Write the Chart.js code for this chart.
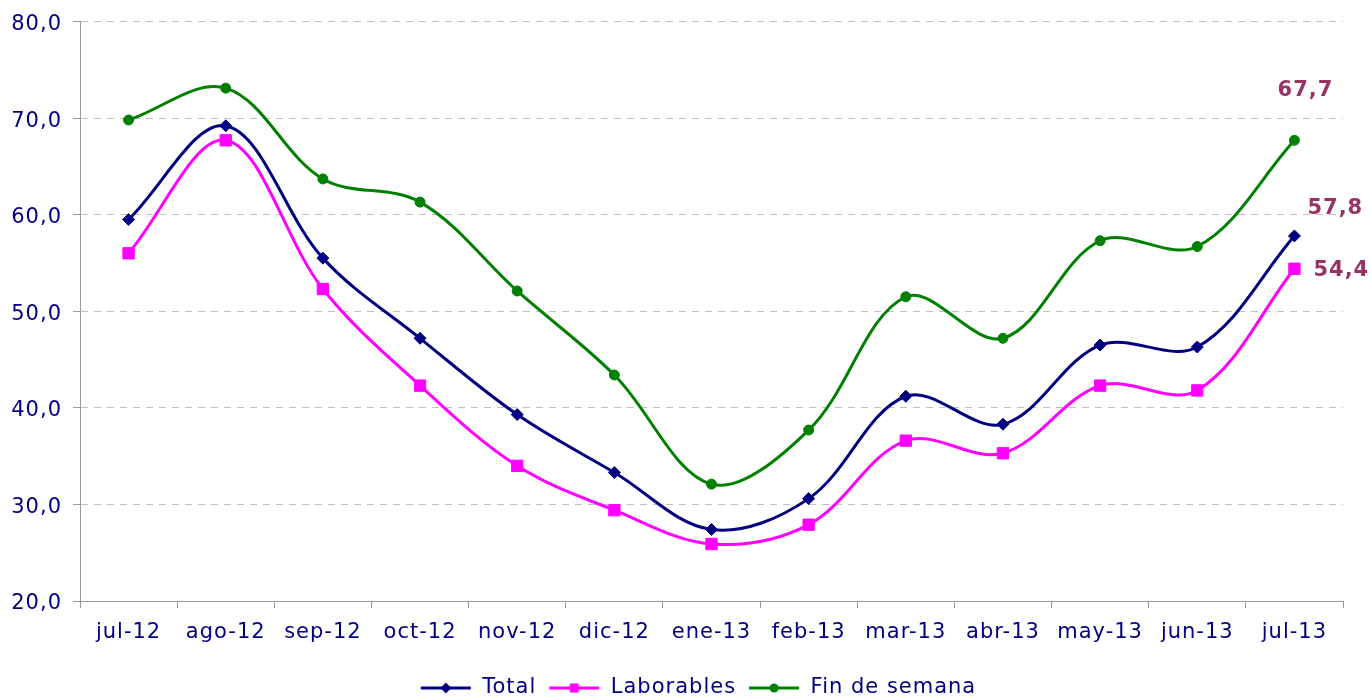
<!DOCTYPE html>
<html><head><meta charset="utf-8">
<script src="https://cdn.jsdelivr.net/npm/chart.js@4.4.1/dist/chart.umd.min.js"></script>
<style>html,body{margin:0;padding:0;background:#fff;}#wrap{width:1371px;height:698px;position:relative;}</style>
</head><body><div id="wrap"><canvas id="c" width="1371" height="698" style="width:1371px;height:698px"></canvas></div>
<script>
const categories = ['jul-12','ago-12','sep-12','oct-12','nov-12','dic-12','ene-13','feb-13','mar-13','abr-13','may-13','jun-13','jul-13'];
const total = [59.5,69.2,55.5,47.2,39.3,33.3,27.4,30.6,41.2,38.3,46.5,46.3,57.8];
const laborables = [56.0,67.7,52.3,42.3,34.0,29.4,25.9,27.9,36.6,35.3,42.3,41.8,54.4];
const finDeSemana = [69.8,73.1,63.7,61.3,52.1,43.4,32.1,37.7,51.5,47.2,57.3,56.7,67.7];
const seriesNames = ['Total','Laborables','Fin de semana'];
const seriesColors = ['#000080','#FF00FF','#008000'];
const yMin = 20, yMax = 80, yStep = 10;

const FONT = 'DejaVu Sans, Verdana, sans-serif';
const TEXT = '#000080';
const fmt = v => v.toFixed(1).replace('.', ',');

function legendIcon(color, style) {
  const c = document.createElement('canvas');
  c.width = 52; c.height = 14;
  const g = c.getContext('2d');
  g.strokeStyle = color; g.lineWidth = 3;
  g.beginPath(); g.moveTo(1, 7); g.lineTo(51, 7); g.stroke();
  g.fillStyle = color;
  g.beginPath();
  if (style === 'rectRot') { g.moveTo(26, 1.5); g.lineTo(31.5, 7); g.lineTo(26, 12.5); g.lineTo(20.5, 7); g.closePath(); }
  else if (style === 'rect') { g.rect(21.5, 2.5, 9, 9); }
  else { g.arc(26, 7, 4.5, 0, Math.PI * 2); }
  g.fill();
  return c;
}

const spacing = {
  id: 'spacing',
  beforeLayout(chart) { chart.ctx.letterSpacing = '1px'; },
  afterLayout(chart) {
    if (chart.legend) { chart.legend.left += 12.5; chart.legend.right += 12.5; }
  },
  beforeDraw(chart) { chart.ctx.letterSpacing = '1px'; }
};

const lastLabels = {
  id: 'lastLabels',
  afterDatasetsDraw(chart) {
    const ctx = chart.ctx;
    const offs = [{dx: 13, dy: -27, align: 'left'}, {dx: 19, dy: 2, align: 'left'}, {dx: 11, dy: -50, align: 'center'}];
    ctx.save();
    ctx.letterSpacing = '1px';
    ctx.font = 'bold 21px ' + FONT;
    ctx.fillStyle = '#993366';
    ctx.textBaseline = 'middle';
    chart.data.datasets.forEach((ds, i) => {
      const meta = chart.getDatasetMeta(i);
      const pt = meta.data[meta.data.length - 1];
      const v = ds.data[ds.data.length - 1];
      ctx.textAlign = offs[i].align;
      ctx.fillText(fmt(v), pt.x + offs[i].dx, pt.y + offs[i].dy);
    });
    ctx.restore();
  }
};

const styles = ['rectRot', 'rect', 'circle'];
const radii = [6, 8, 5];
const values = [total, laborables, finDeSemana];

new Chart(document.getElementById('c'), {
  type: 'line',
  data: {
    labels: categories,
    datasets: values.map((d, i) => ({
      label: seriesNames[i],
      data: d,
      borderColor: seriesColors[i],
      backgroundColor: seriesColors[i],
      borderWidth: 3,
      pointStyle: styles[i],
      pointRadius: radii[i],
      pointBorderWidth: 1,
      pointBackgroundColor: seriesColors[i],
      pointBorderColor: seriesColors[i],
      tension: 0.35,
      fill: false,
      yAxisID: 'y'
    }))
  },
  options: {
    responsive: false,
    animation: false,
    devicePixelRatio: 1,
    layout: {padding: {top: 21, left: 0, right: 0, bottom: -10.5}},
    plugins: {
      legend: {
        position: 'bottom',
        labels: {
          usePointStyle: true,
          pointStyleWidth: 52,
          padding: 12,
          color: TEXT,
          font: {family: FONT, size: 21},
          generateLabels(chart) {
            return chart.data.datasets.map((ds, i) => ({
              text: ds.label,
              pointStyle: legendIcon(seriesColors[i], styles[i]),
              fillStyle: seriesColors[i],
              strokeStyle: seriesColors[i],
              lineWidth: 0,
              fontColor: TEXT,
              hidden: false,
              datasetIndex: i
            }));
          }
        }
      },
      tooltip: {enabled: false}
    },
    scales: {
      x: {
        offset: true,
        grid: {display: true, drawOnChartArea: false, drawTicks: true, tickLength: 7, offset: true, tickColor: '#999999', color: '#999999'},
        border: {display: true, color: '#999999', width: 1},
        ticks: {color: TEXT, font: {family: FONT, size: 21}, padding: 12, maxRotation: 0, autoSkip: false},
        afterFit(s) { s.height = 64.5; }
      },
      y: {
        position: 'left',
        min: yMin, max: yMax,
        grid: {color: '#c0c0c0', lineWidth: 1, tickLength: 7, tickColor: '#999999', tickBorderDash: []},
        border: {display: true, color: '#999999', width: 1, dash: [7, 6]},
        ticks: {stepSize: yStep, color: TEXT, font: {family: FONT, size: 21, lineHeight: 1}, padding: 11, labelOffset: 3, callback: v => fmt(v)},
        afterFit(s) { s.width = 80; }
      },
      yr: {
        position: 'right',
        display: true,
        grid: {display: false, drawTicks: false},
        border: {display: false},
        ticks: {display: false},
        afterFit(s) { s.width = 28; }
      }
    }
  },
  plugins: [spacing, lastLabels]
});
</script></body></html>
